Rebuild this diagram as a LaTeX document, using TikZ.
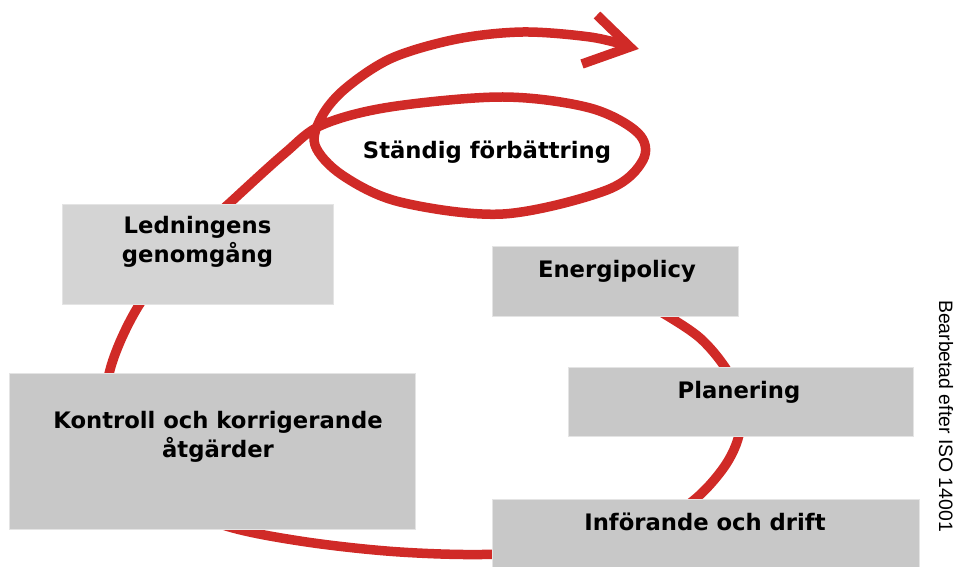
\documentclass[tikz,border=0pt]{standalone}
\usepackage{fontspec}
\setmainfont{DejaVu Sans}
\newfontfamily\arialf{Liberation Sans}
\definecolor{loopred}{RGB}{208,42,39}
\definecolor{boxa}{RGB}{200,200,200}
\definecolor{boxb}{RGB}{212,212,212}
\definecolor{boxedge}{RGB}{228,228,228}
\begin{document}
\begin{tikzpicture}[x=1pt,y=-1pt,
  lbl/.style={font=\bfseries\fontsize{22.7}{29}\selectfont, align=center, anchor=base, inner sep=0pt},
  boxst/.style={draw=boxedge, line width=1pt, fill=boxa, inner sep=0pt},
  loop/.style={draw=loopred, line width=9.5pt}]
\useasboundingbox (0,0) rectangle (961,567);

% the red spiral
\draw[loop, line join=round] plot[smooth, tension=0.55] coordinates {
 (640,300) (700,338) (735,385) (740,430) (722,470) (680,510) (600,543)
 (500,554) (400,552) (300,541) (220,524) (160,492) (122,450) (106,405)
 (110,370) (124,333) (145,296) (185,245) (233,200) (285,153) (322,125)
 (390,107) (503,97) (590,108) (638,133) (643,160) (607,190) (503,214)
 (400,202) (342,175) (315,145) (322,116) (346,88) (392,58) (457,39)
 (523,32) (590,37) (628,46)};
\coordinate (armA) at (597,15);
\coordinate (tip) at (630,47);
\coordinate (armB) at (582,64);
\draw[loop, line join=miter, line cap=butt] (armA) -- (tip) -- (armB);

% boxes
\node[boxst, fill=boxb, minimum width=271pt, minimum height=100pt] (led) at (197.5,254) {};
\node[boxst, minimum width=406pt, minimum height=156pt] (kon) at (212,451) {};
\node[boxst, minimum width=246pt, minimum height=70pt] (ene) at (615,281) {};
\node[boxst, minimum width=345pt, minimum height=69pt] (pla) at (740.5,401.5) {};
\node[boxst, minimum width=427pt, minimum height=72pt] (inf) at (705.5,535) {};

% texts (base anchor = baseline of the last line)
\node[lbl] (ledt) at (197.5,262) {Ledningens\\genomgång};
\node[lbl] (kont) at (218,457) {Kontroll och korrigerande\\åtgärder};
\node[lbl] (enet) at (617,277) {Energipolicy};
\node[lbl] (plat) at (739,398) {Planering};
\node[lbl] (inft) at (705,530) {Införande och drift};
\node[lbl] (std) at (487,159) {Ständig förbättring};
\node[font=\arialf\fontsize{19.4}{23}\selectfont, rotate=-90, inner sep=0pt] (src) at (946,416) {Bearbetad efter ISO 14001};
\end{tikzpicture}
\end{document}
